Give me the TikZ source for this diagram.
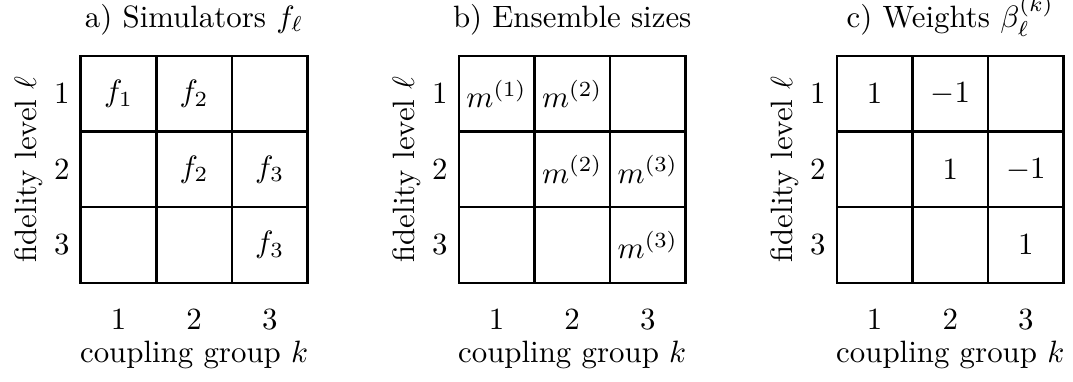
\documentclass[tikz,border=0pt]{standalone}
\usepackage{amsmath,amssymb}
\usetikzlibrary{calc}
% grid, row and column numbers and axis texts of one panel; #1 = name prefix
\newcommand{\couplinggrid}[1]{%
  \draw (0,0) rectangle (3,3);
  \foreach \i in {1,2} {\draw (\i,0) -- (\i,3); \draw (0,\i) -- (3,\i);}
  \foreach \i in {1,2,3} {
    \node (#1row\i) at (-0.25,3.5-\i) {$\i$};
    \node[anchor=base] (#1col\i) at (\i-0.5,-0.62) {$\i$};
  }
  \node[anchor=base,rotate=90] (#1fid) at (-0.59,1.5) {fidelity level $\ell$};
  \node[anchor=base] (#1grp) at (1.5,-1.06) {coupling group $k$};
}

\begin{document}
\begin{tikzpicture}[x=0.861cm,y=0.861cm,thick]
\useasboundingbox (-1.067,-1.30) rectangle (13.123,3.74);
% a) simulators
\begin{scope}
\couplinggrid{a}
\node[anchor=base] (atitle) at (1.5,3.38) {a) Simulators $f_\ell$};
\node (a11) at (0.5,2.5) {$f_1$}; \node (a12) at (1.5,2.5) {$f_2$};
\node (a22) at (1.5,1.5) {$f_2$}; \node (a23) at (2.5,1.5) {$f_3$};
\node (a33) at (2.5,0.5) {$f_3$};
\end{scope}
% b) ensemble sizes
\begin{scope}[shift={(5,0)}]
\couplinggrid{b}
\node[anchor=base] (btitle) at (1.5,3.38) {b) Ensemble sizes};
\node (b11) at (0.5,2.5) {$m^{(1)}$}; \node (b12) at (1.5,2.5) {$m^{(2)}$};
\node (b22) at (1.5,1.5) {$m^{(2)}$}; \node (b23) at (2.5,1.5) {$m^{(3)}$};
\node (b33) at (2.5,0.5) {$m^{(3)}$};
\end{scope}
% c) weights
\begin{scope}[shift={(10,0)}]
\couplinggrid{c}
\node[anchor=base] (ctitle) at (1.5,3.38) {c) Weights $\beta_\ell^{(k)}$};
\node (c11) at (0.5,2.5) {$1$}; \node (c12) at (1.5,2.5) {$-1$};
\node (c22) at (1.5,1.5) {$1$}; \node (c23) at (2.5,1.5) {$-1$};
\node (c33) at (2.5,0.5) {$1$};
\end{scope}
\end{tikzpicture}
\end{document}
